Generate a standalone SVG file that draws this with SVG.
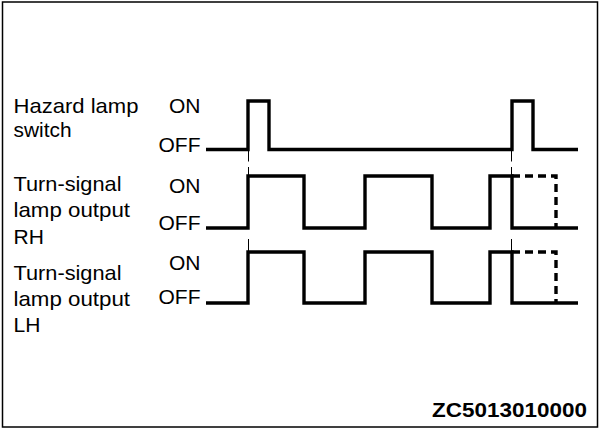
<svg xmlns="http://www.w3.org/2000/svg" width="600" height="429" viewBox="0 0 600 429">
<style>
text{font-family:"Liberation Sans",Arial,Helvetica,sans-serif;font-size:21px;fill:#000}
.lvl{text-anchor:end}
.code{font-weight:bold}
.wave{fill:none;stroke:#000;stroke-width:3.4;stroke-linejoin:miter;stroke-linecap:butt}
.dash{fill:none;stroke:#000;stroke-width:3.4;stroke-dasharray:8 5}
.guide{fill:none;stroke:#000;stroke-width:1}
</style>
<rect x="2.5" y="2" width="595" height="425" fill="#fff" stroke="#000" stroke-width="1.5"/>
<g id="hazard">
<text x="13.5" y="113" textLength="125" lengthAdjust="spacingAndGlyphs">Hazard lamp</text>
<text x="13.5" y="137" textLength="58" lengthAdjust="spacingAndGlyphs">switch</text>
<text class="lvl" x="200.5" y="113">ON</text>
<text class="lvl" x="200.5" y="152">OFF</text>
<path class="wave" d="M206,149.5 H248 V101 H269 V149.5 H512 V101 H533 V149.5 H578"/>
</g>
<g id="rh">
<text x="13.5" y="191" textLength="108" lengthAdjust="spacingAndGlyphs">Turn-signal</text>
<text x="13.5" y="217" textLength="116.5" lengthAdjust="spacingAndGlyphs">lamp output</text>
<text x="13.5" y="243.5">RH</text>
<text class="lvl" x="200.5" y="192.5">ON</text>
<text class="lvl" x="200.5" y="230">OFF</text>
<path class="wave" d="M206,228 H248 V176 H304 V228 H365 V176 H432 V228 H490 V176 H512 V228 H578"/>
<path class="dash" d="M512,176 H556 V228"/>
</g>
<g id="lh">
<text x="13.5" y="280" textLength="108" lengthAdjust="spacingAndGlyphs">Turn-signal</text>
<text x="13.5" y="306" textLength="116.5" lengthAdjust="spacingAndGlyphs">lamp output</text>
<text x="13.5" y="332">LH</text>
<text class="lvl" x="200.5" y="270">ON</text>
<text class="lvl" x="200.5" y="304">OFF</text>
<path class="wave" d="M206,303 H248 V252 H304 V303 H365 V252 H432 V303 H490 V252 H512 V303 H578"/>
<path class="dash" d="M512,252 H556 V303"/>
</g>
<g id="connectors">
<path class="guide" d="M248.5,150 V161.5 M248.5,167 V176 M248.5,239 V252 M511.5,150 V161.5 M511.5,167 V176 M511.5,239 V252"/>
</g>
<g id="code">
<text class="code" x="432" y="417" textLength="155" lengthAdjust="spacingAndGlyphs">ZC5013010000</text>
</g>
</svg>
